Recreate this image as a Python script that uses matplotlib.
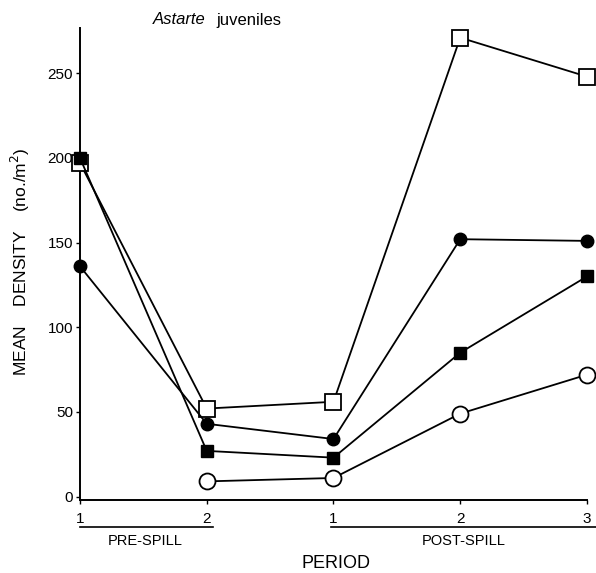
import numpy as np
import matplotlib.pyplot as plt
import matplotlib.transforms as mtransforms

plt.rcParams['font.family'] = ['Liberation Sans', 'DejaVu Sans']

# periods: pre-spill 1, 2 ; post-spill 1, 2, 3
period_labels = ['1', '2', '1', '2', '3']
x = np.arange(len(period_labels))

open_square = [197, 52, 56, 271, 248]
filled_circle = [136, 43, 34, 152, 151]
filled_square = [200, 27, 23, 85, 130]
open_circle = [np.nan, 9, 11, 49, 72]

fig = plt.figure(figsize=(5.96, 5.73), dpi=100)
ax = fig.add_axes([0.1342, 0.1274, 0.8507, 0.8237])

lw = 1.3
ax.plot(x, open_square, '-', color='k', lw=lw, marker='s', ms=11, mfc='white', mec='k', mew=1.3, clip_on=False, zorder=3)
ax.plot(x, filled_circle, '-', color='k', lw=lw, marker='o', ms=9, mfc='k', mec='k', clip_on=False, zorder=3)
ax.plot(x, filled_square, '-', color='k', lw=lw, marker='s', ms=8.5, mfc='k', mec='k', clip_on=False, zorder=4)
ax.plot(x, open_circle, '-', color='k', lw=lw, marker='o', ms=11.5, mfc='white', mec='k', mew=1.3, clip_on=False, zorder=3)

ax.set_xlim(0, 4)
ax.set_ylim(-2, 276.7)
ax.set_yticks([0, 50, 100, 150, 200, 250])
ax.set_xticks(x)
ax.set_xticklabels(period_labels)
ax.tick_params(axis='both', direction='out', length=3, width=1, labelsize=11)
ax.tick_params(axis='x', pad=6)
ax.tick_params(axis='y', pad=2)

for s in ['top', 'right']:
    ax.spines[s].set_visible(False)
for s in ['left', 'bottom']:
    ax.spines[s].set_linewidth(1.4)

# period group brackets below the axis
trans = mtransforms.blended_transform_factory(ax.transData, fig.transFigure)
ax.plot([0, 1.05], [1 - 527 / 573] * 2, color='k', lw=1.2, transform=trans, clip_on=False)
ax.plot([1.98, 4.07], [1 - 527 / 573] * 2, color='k', lw=1.2, transform=trans, clip_on=False)
fig.text(145 / 596, 1 - 541 / 573, 'PRE-SPILL', ha='center', va='center', fontsize=10.5)
fig.text(464 / 596, 1 - 541 / 573, 'POST-SPILL', ha='center', va='center', fontsize=10.5)
fig.text(336 / 596, 1 - 563 / 573, 'PERIOD', ha='center', va='center', fontsize=13)

fig.text(20 / 596, 1 - 262 / 573, 'MEAN    DENSITY    (no./m$^2$)', rotation=90,
         ha='center', va='center', fontsize=12.5)

fig.text(206 / 596, 1 - 20 / 573, 'Astarte', style='italic', ha='right', va='center', fontsize=12)
fig.text(216 / 596, 1 - 20 / 573, 'juveniles', ha='left', va='center', fontsize=12)

fig.savefig('out.png', dpi=100)
